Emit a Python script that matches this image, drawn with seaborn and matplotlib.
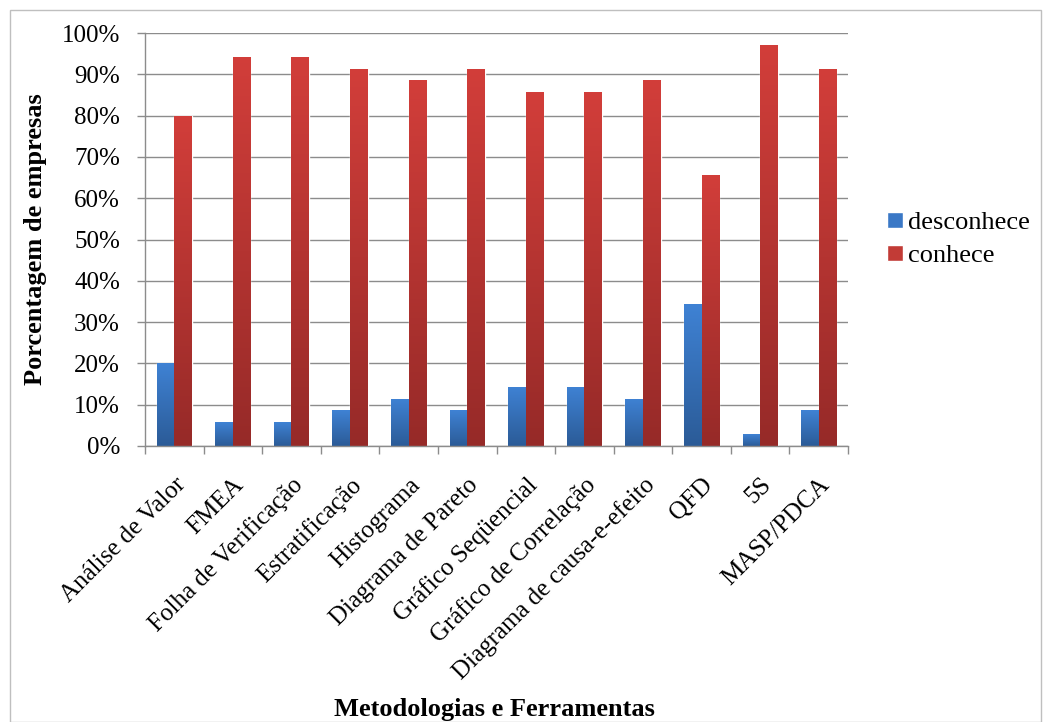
import numpy as np
import pandas as pd
import matplotlib
matplotlib.use("Agg")
import matplotlib.pyplot as plt
import matplotlib.colors as mcolors
from matplotlib.ticker import FixedLocator, PercentFormatter
from matplotlib.patches import Rectangle
import seaborn as sns

# data (% of companies)
ferramentas = ["Análise de Valor", "FMEA", "Folha de Verificação", "Estratificação",
               "Histograma", "Diagrama de Pareto", "Gráfico Seqüencial",
               "Gráfico de Correlação", "Diagrama de causa-e-efeito", "QFD", "5S",
               "MASP/PDCA"]
desconhece = [20.0, 5.7, 5.7, 8.6, 11.4, 8.6, 14.3, 14.3, 11.4, 34.3, 2.9, 8.6]
conhece = [80.0, 94.3, 94.3, 91.4, 88.6, 91.4, 85.7, 85.7, 88.6, 65.7, 97.1, 91.4]

df = pd.DataFrame({"ferramenta": ferramentas * 2,
                   "valor": desconhece + conhece,
                   "grupo": ["desconhece"] * len(ferramentas) + ["conhece"] * len(ferramentas)})

sns.set_theme(style="white")
plt.rcParams["font.family"] = ["Liberation Serif", "DejaVu Serif"]
plt.rcParams["text.color"] = "black"
plt.rcParams["axes.labelcolor"] = "black"
plt.rcParams["xtick.color"] = "black"
plt.rcParams["ytick.color"] = "black"

fig = plt.figure(figsize=(10.43, 7.22), dpi=100)
ax = fig.add_axes([145 / 1043, 1 - 446 / 722, 703 / 1043, 413 / 722])

# outer frame like the Excel chart area
fig.patches.append(Rectangle((10 / 1043, 0), 1 - 10 / 1043 - 0.002, 1 - 10 / 722,
                             transform=fig.transFigure, fill=False,
                             edgecolor="#bfbfbf", linewidth=1))

cores = {"desconhece": "#3a78c6", "conhece": "#c23b36"}
sns.barplot(data=df, x="ferramenta", y="valor", hue="grupo", palette=cores,
            width=0.6, gap=0, ax=ax, saturation=1, zorder=3)

# vertical gradient inside each bar
grads = {
    "desconhece": mcolors.LinearSegmentedColormap.from_list("b", ["#2b5b97", "#3f82d4"]),
    "conhece": mcolors.LinearSegmentedColormap.from_list("r", ["#962a28", "#d23e3a"]),
}
n = len(ferramentas)
for i, p in enumerate(ax.patches[:2 * n]):
    grupo = "desconhece" if i < n else "conhece"
    x0, w, h = p.get_x(), p.get_width(), p.get_height()
    grad = np.linspace(0, 1, 256).reshape(-1, 1) * (h / 100)
    im = ax.imshow(grad, extent=(x0, x0 + w, 0, h), origin="lower", aspect="auto",
                   cmap=grads[grupo], vmin=0, vmax=max(h / 100, 1e-6), zorder=4)
    im.set_clip_path(p)

ax.set_xlim(-0.5, n - 0.5)
ax.set_ylim(0, 100)
ax.yaxis.set_major_locator(FixedLocator(np.arange(0, 101, 10)))
ax.yaxis.set_major_formatter(PercentFormatter(decimals=0))
ax.grid(axis="y", color="#8c8c8c", linewidth=1, zorder=0)
ax.set_axisbelow(True)

for s in ["top", "right"]:
    ax.spines[s].set_visible(False)
for s in ["left", "bottom"]:
    ax.spines[s].set_color("#8c8c8c")
    ax.spines[s].set_linewidth(1)
    ax.spines[s].set_zorder(5)

ax.set_xticks(range(n))
ax.set_xticklabels(ferramentas, rotation=45, ha="right", rotation_mode="anchor",
                   fontsize=18)
ax.xaxis.set_minor_locator(FixedLocator(np.arange(-0.5, n, 1)))
ax.tick_params(axis="x", which="major", length=0, pad=20)
ax.tick_params(axis="x", which="minor", length=6, color="#8c8c8c", width=1,
               direction="out", bottom=True)
ax.tick_params(axis="y", length=6, color="#8c8c8c", width=1, direction="out",
               left=True, labelsize=18, pad=12)

ax.set_xlabel("Metodologias e Ferramentas", fontsize=19, fontweight="bold")
ax.xaxis.set_label_coords(0.497, -0.61)
ax.set_ylabel("Porcentagem de empresas", fontsize=19, fontweight="bold")
ax.yaxis.set_label_coords(-0.139, 0.5)

leg = ax.legend(loc="center left", bbox_to_anchor=(1.056, 0.5), frameon=False,
                fontsize=19, handlelength=0.58, handleheight=0.58,
                handletextpad=0.2, labelspacing=0.4, borderaxespad=0, borderpad=0)

fig.savefig("out.png", dpi=100)
